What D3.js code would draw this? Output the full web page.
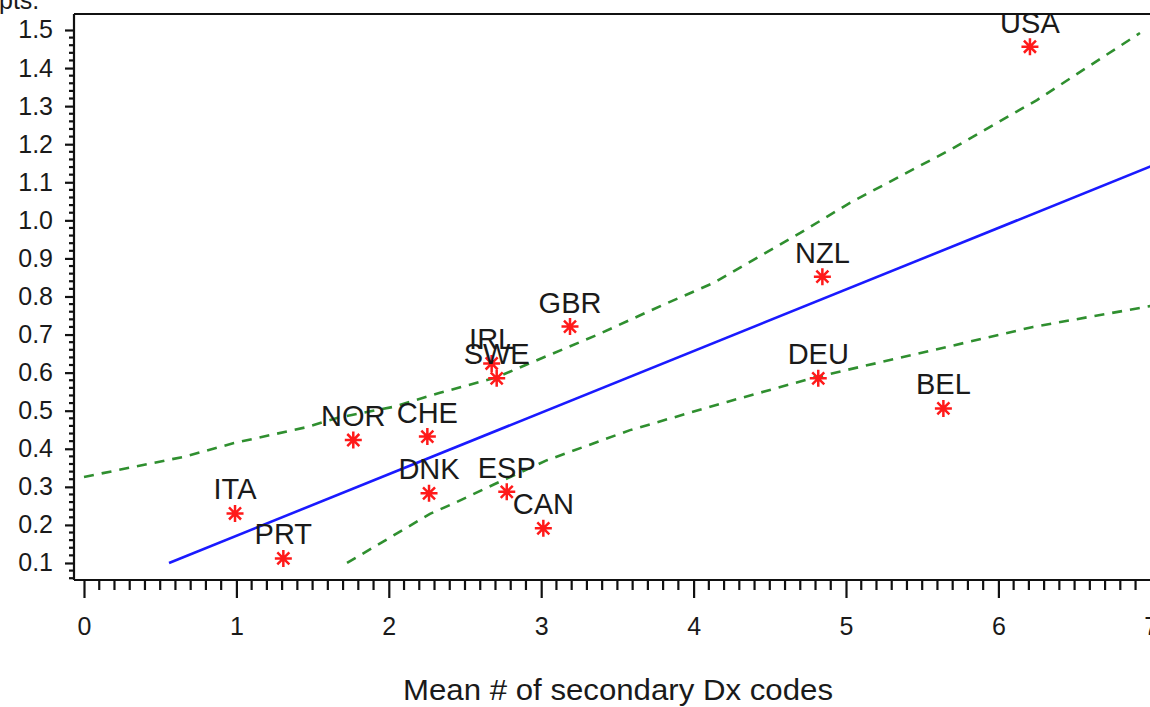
<!DOCTYPE html>
<html>
<head>
<meta charset="utf-8">
<script src="https://cdn.jsdelivr.net/npm/d3@7"></script>
<style>
  html, body { margin: 0; padding: 0; background: #fff; }
  svg { display: block; }
  text { font-family: "Liberation Sans", Arial, sans-serif; fill: #1a1a1a; }
</style>
</head>
<body>
<svg id="chart" width="1150" height="707"></svg>
<script>
// Countries and their coordinates (mean # secondary Dx codes, pts.)
const countries = ["USA", "NZL", "DEU", "BEL", "GBR", "IRL", "SWE", "CHE", "DNK", "ESP", "CAN", "NOR", "ITA", "PRT"];
const meanDx    = [6.207, 4.845, 4.818, 5.639, 3.189, 2.675, 2.708, 2.253, 2.264, 2.774, 3.014, 1.767, 0.991, 1.308];
const pts       = [1.456, 0.852, 0.585, 0.506, 0.721, 0.624, 0.585, 0.432, 0.283, 0.287, 0.191, 0.423, 0.230, 0.112];

// Fitted regression line (endpoints)
const fitX = [0.558, 7.1];
const fitY = [0.100, 1.158];

// Upper and lower confidence limits
const upperX = [0, 0.656, 0.984, 1.463, 1.66, 2.028, 2.336, 2.71, 2.927, 3.366, 3.80, 4.127, 4.70, 5.026, 5.682, 6.253, 6.929];
const upperY = [0.326, 0.379, 0.415, 0.457, 0.481, 0.510, 0.547, 0.588, 0.625, 0.699, 0.778, 0.835, 0.967, 1.046, 1.185, 1.316, 1.492];
const lowerX = [1.726, 2.27, 2.428, 2.71, 3.038, 3.583, 4.219, 4.81, 5.571, 6.227, 6.929, 7.0];
const lowerY = [0.100, 0.229, 0.257, 0.310, 0.370, 0.449, 0.523, 0.589, 0.659, 0.720, 0.770, 0.775];

// Axis ticks
const yTicks = [0.1, 0.2, 0.3, 0.4, 0.5, 0.6, 0.7, 0.8, 0.9, 1.0, 1.1, 1.2, 1.3, 1.4, 1.5];
const xTicks = [0, 1, 2, 3, 4, 5, 6, 7];
const yLabel = "pts.";
const xLabel = "Mean # of secondary Dx codes";

const svg = d3.select("#chart");

const x = d3.scaleLinear().domain([-0.0656, 7.1]).range([74, 74 + 7.1656 * 152.4]);
const y = d3.scaleLinear().domain([0.0553, 1.542]).range([580, 14]);

const x0 = x.range()[0], x1 = x.range()[1];
const y0 = y.range()[0], y1 = y.range()[1];

// Plot clip region
svg.append("defs").append("clipPath").attr("id", "plotClip")
  .append("rect").attr("x", x0).attr("y", y1).attr("width", x1 - x0).attr("height", y0 - y1);

const plot = svg.append("g").attr("clip-path", "url(#plotClip)");

const line = d3.line().x(d => x(d[0])).y(d => y(d[1]));

// Confidence limits
[d3.zip(upperX, upperY), d3.zip(lowerX, lowerY)].forEach(band => {
  plot.append("path")
    .datum(band)
    .attr("d", line)
    .attr("fill", "none").attr("stroke", "#2f8f2f").attr("stroke-width", 2.6)
    .attr("stroke-dasharray", "10,8");
});

// Regression line
plot.append("path")
  .datum(d3.zip(fitX, fitY))
  .attr("d", line)
  .attr("fill", "none").attr("stroke", "#1a1aff").attr("stroke-width", 2.6);

// Points as asterisks
const pointData = countries.map((c, i) => ({ name: c, x: meanDx[i], y: pts[i] }));
const r = 8.5;
const star = d3.range(4).map(k => {
  const a = k * Math.PI / 4;
  return `M${-r * Math.cos(a)},${-r * Math.sin(a)}L${r * Math.cos(a)},${r * Math.sin(a)}`;
}).join("");

svg.append("g").selectAll("path")
  .data(pointData)
  .join("path")
  .attr("transform", d => `translate(${x(d.x)},${y(d.y)})`)
  .attr("d", star)
  .attr("stroke", "#ff1a1a").attr("stroke-width", 2.5).attr("fill", "none");

// Point labels
svg.append("g").selectAll("text")
  .data(pointData)
  .join("text")
  .attr("x", d => x(d.x))
  .attr("y", d => y(d.y) - 14)
  .attr("text-anchor", "middle")
  .attr("font-size", 29)
  .text(d => d.name);

// Frame: top, left, bottom
const frame = svg.append("g").attr("stroke", "#111").attr("stroke-width", 2.2).attr("fill", "none");
frame.append("line").attr("x1", x0).attr("x2", 1150).attr("y1", y1).attr("y2", y1);
frame.append("line").attr("x1", x0).attr("x2", x0).attr("y1", y1).attr("y2", y0);
frame.append("line").attr("x1", x0).attr("x2", 1150).attr("y1", y0).attr("y2", y0);

// Y axis
const yMinor = d3.range(6, 151, 2).map(v => v / 100).filter(v => !yTicks.some(t => Math.abs(t - v) < 1e-6));
const yAxis = svg.append("g").attr("transform", `translate(${x0},0)`)
  .call(d3.axisLeft(y).tickValues(yTicks).tickSize(9).tickPadding(12).tickFormat(d3.format(".1f")));
yAxis.select(".domain").remove();
yAxis.selectAll(".tick line").attr("stroke", "#111").attr("stroke-width", 2.2);
yAxis.selectAll(".tick text").attr("font-size", 25).attr("font-family", "Liberation Sans, Arial, sans-serif").attr("fill", "#1a1a1a");
yAxis.append("g").selectAll("line").data(yMinor).join("line")
  .attr("x1", -5).attr("x2", 0).attr("y1", d => y(d)).attr("y2", d => y(d))
  .attr("stroke", "#111").attr("stroke-width", 2.2);

// X axis
const xMinor = d3.range(1, 71).map(v => v / 10).filter(v => Math.abs(v - Math.round(v)) > 1e-6);
const xAxis = svg.append("g").attr("transform", `translate(0,${y0})`)
  .call(d3.axisBottom(x).tickValues(xTicks).tickSize(18).tickPadding(19).tickFormat(d3.format("d")));
xAxis.select(".domain").remove();
xAxis.selectAll(".tick line").attr("stroke", "#111").attr("stroke-width", 2.2);
xAxis.selectAll(".tick text").attr("font-size", 25).attr("font-family", "Liberation Sans, Arial, sans-serif").attr("fill", "#1a1a1a");
xAxis.append("g").selectAll("line").data(xMinor).join("line")
  .attr("x1", d => x(d)).attr("x2", d => x(d)).attr("y1", 0).attr("y2", 10)
  .attr("stroke", "#111").attr("stroke-width", 2.2);

// Axis titles
svg.append("text").attr("x", -1).attr("y", 9).attr("font-size", 25).text(yLabel);
svg.append("text").attr("x", 618).attr("y", 700).attr("text-anchor", "middle")
  .attr("font-size", 29).attr("textLength", 430).attr("lengthAdjust", "spacingAndGlyphs")
  .text(xLabel);
</script>
</body>
</html>
